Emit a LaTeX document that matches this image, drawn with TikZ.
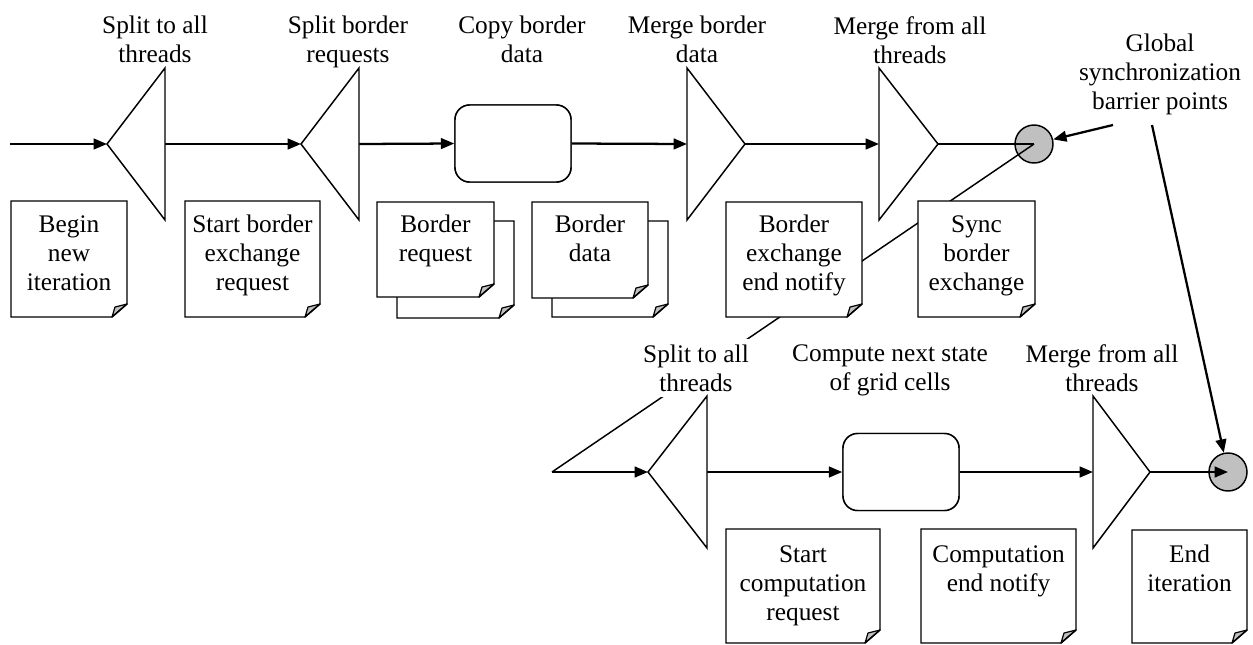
\documentclass[tikz,border=0pt]{standalone}
\usepackage{fontspec}
\setmainfont{Liberation Serif}
\usetikzlibrary{arrows.meta}
\definecolor{barrier}{HTML}{C0C0C0}
\definecolor{foldgray}{HTML}{C0C0C0}

\tikzset{
  flow/.style={line width=1.7pt, -{Triangle[length=10pt,width=8pt]}},
  thinlink/.style={line width=1.1pt},
  outline/.style={draw, line width=1.1pt, fill=white, line join=miter},
  proc/.style={outline, rounded corners=11pt, minimum width=87pt,
               minimum height=57.75pt, inner sep=0pt},
  sync/.style={circle, draw, line width=1.1pt, fill=barrier,
               minimum size=28.5pt, inner sep=0pt},
  caption/.style={anchor=north, align=center, inner sep=0pt,
                  font=\fontsize{19}{21.75}\selectfont},
  notetext/.style={caption},
}

% sheet of paper with a folded lower right corner: x1,y1,x2,y2
\newcommand\notesheet[4]{%
  \path[fill=white] (#1,#2) -- (#3,#2) -- (#3,#4-13) -- (#3-15,#4) -- (#1,#4) -- cycle;
  \path[draw, fill=foldgray, line width=0.9pt, line join=round]
    (#3,#4-13) -- (#3-12,#4-10) -- (#3-15,#4) -- cycle;
  \draw[line width=1.1pt] (#1,#2) -- (#3,#2) -- (#3,#4-13) -- (#3-15,#4) -- (#1,#4) -- cycle;
}

\begin{document}
\begin{tikzpicture}[x=0.75pt, y=-0.75pt]
\useasboundingbox (0,0) rectangle (1253,644);

% barrier points
\node[sync] (b1) at (1034,144) {};
\node[sync] (b2) at (1228,472) {};

% split / merge end points
\coordinate (start) at (10,144);
\coordinate (s1in) at (107,144);  \coordinate (s1out) at (165,144);
\coordinate (s2in) at (301,144);  \coordinate (s2out) at (359,144);
\coordinate (m1in) at (687,144);  \coordinate (m1out) at (745,144);
\coordinate (m2in) at (879,144);  \coordinate (m2out) at (938,144);
\coordinate (turn) at (552,472);
\coordinate (s3in) at (648,472);  \coordinate (s3out) at (707,472);
\coordinate (m3in) at (1093,472); \coordinate (m3out) at (1150,472);
\coordinate (g1) at (1113,125);
\coordinate (g2) at (1152,125);

\node[proc] (copy) at (513,143.5) {};
\node[proc] (comp) at (901,472) {};

% connectors
\draw[flow] (start) -- (s1in);
\draw[flow] (s1out) -- (s2in);
\draw[flow] (s2out) -- (copy.west);
\draw[flow] (copy.east) -- (m1in);
\draw[flow] (m1out) -- (m2in);
\draw[thinlink] (m2out) -- (b1.center);
\draw[thinlink] (b1.center) -- (turn);
\draw[flow] (turn) -- (s3in);
\draw[flow] (s3out) -- (comp.west);
\draw[flow] (comp.east) -- (m3in);
\draw[flow] (m3out) -- (b2.center);
\draw[flow] (g1) -- (b1);
\draw[flow] (g2) -- (b2);

% label laid over the barrier link
\node[caption, fill=white, inner xsep=3pt, inner ysep=4pt] (l-s3) at (696,339)
  {Split to all\\threads};

% split and merge triangles
\path[outline] (s1in) -- (165,68) -- (165,220) -- cycle;
\path[outline] (s2in) -- (359,68) -- (359,220) -- cycle;
\path[outline] (m1out) -- (687,68) -- (687,220) -- cycle;
\path[outline] (m2out) -- (879,68) -- (879,220) -- cycle;
\path[outline] (s3in) -- (707,396) -- (707,548) -- cycle;
\path[outline] (m3out) -- (1093,396) -- (1093,548) -- cycle;
\node[proc] at (copy) {};
\node[proc] at (comp) {};

% notes, upper lane
\notesheet{11}{201}{127}{317}
\notesheet{185}{201}{320}{317}
\notesheet{397}{221}{514}{318}
\notesheet{377}{202}{494}{297}
\notesheet{552}{221}{668}{317}
\notesheet{532}{202}{648}{298}
\notesheet{726}{202}{862}{317}
\notesheet{918}{201}{1035}{317}
% notes, lower lane
\notesheet{726}{529}{880}{643}
\notesheet{921}{529}{1076}{643}
\notesheet{1132}{530}{1247}{643}

\node[notetext] (n-begin) at (69,215) {Begin\\new\\iteration};
\node[notetext] (n-sbx) at (252.5,215) {Start border\\exchange\\request};
\node[notetext] (n-breq) at (435.5,215) {Border\\request};
\node[notetext] (n-bdat) at (590,215) {Border\\data};
\node[notetext] (n-bend) at (794,215) {Border\\exchange\\end notify};
\node[notetext] (n-sync) at (976.5,215) {Sync\\border\\exchange};
\node[notetext] (n-scomp) at (803,545) {Start\\computation\\request};
\node[notetext] (n-cend) at (998.5,545) {Computation\\end notify};
\node[notetext] (n-end) at (1189.5,545) {End\\iteration};

% captions
\node[caption] (l-s1) at (155,16) {Split to all\\threads};
\node[caption] (l-s2) at (348,16) {Split border\\requests};
\node[caption] (l-copy) at (522,16) {Copy border\\data};
\node[caption] (l-m1) at (697,16) {Merge border\\data};
\node[caption] (l-m2) at (910,16) {Merge from all\\threads};
\node[caption] (glob) at (1160,34) {Global\\synchronization\\barrier points};
\node[caption] (l-comp) at (890,344) {Compute next state\\of grid cells};
\node[caption] (l-m3) at (1102,344) {Merge from all\\threads};
\end{tikzpicture}
\end{document}
